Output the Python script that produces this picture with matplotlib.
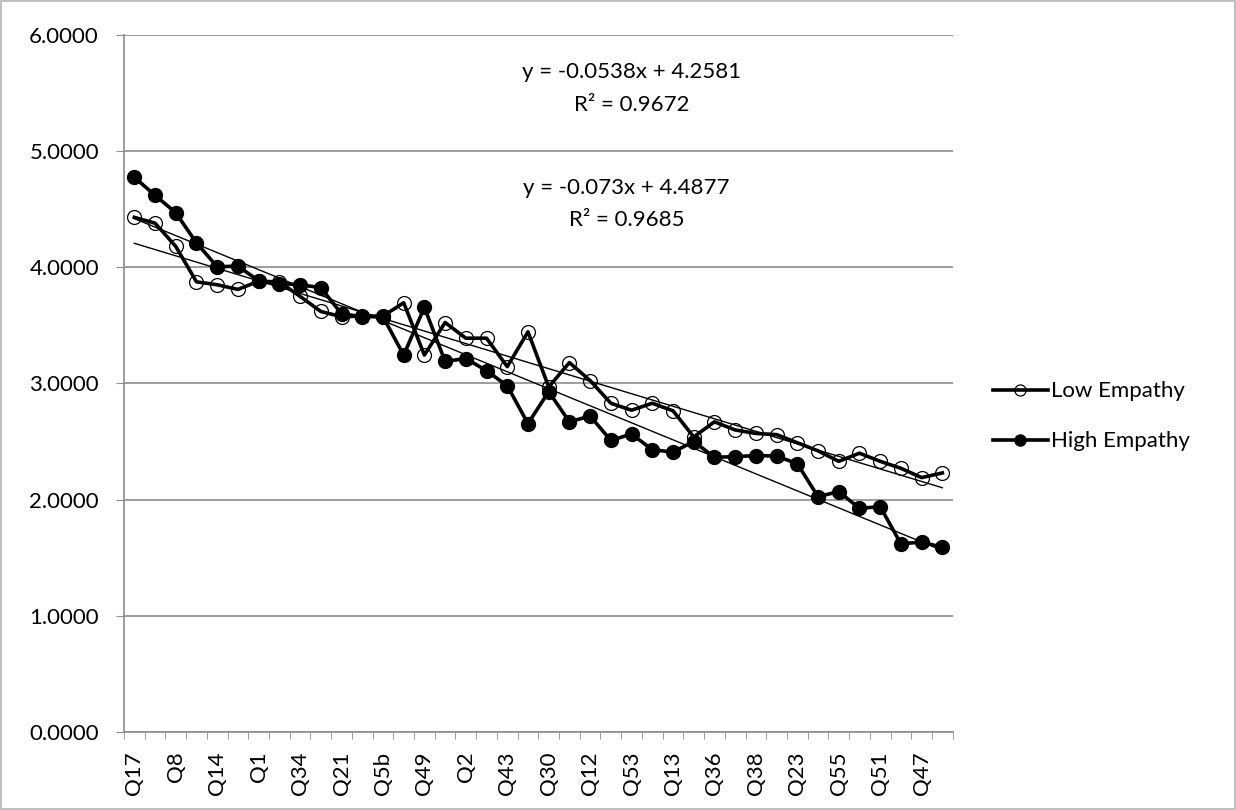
import numpy as np
import matplotlib
matplotlib.use("Agg")
import matplotlib.pyplot as plt

# ── Date ─────────────────────────────────────────────────────────────────────

questions = ["Q17", "", "Q8", "", "Q14", "", "Q1", "", "Q34", "",
             "Q21", "", "Q5b", "", "Q49", "", "Q2", "", "Q43", "",
             "Q30", "", "Q12", "", "Q53", "", "Q13", "", "Q36", "",
             "Q38", "", "Q23", "", "Q55", "", "Q51", "", "Q47", ""]

low_empathy = [4.43, 4.38, 4.18, 3.875, 3.85, 3.81, 3.88, 3.875, 3.75, 3.62,
               3.575, 3.58, 3.58, 3.695, 3.245, 3.525, 3.39, 3.39, 3.145, 3.445,
               2.97, 3.18, 3.025, 2.83, 2.77, 2.83, 2.765, 2.54, 2.67, 2.60,
               2.57, 2.56, 2.49, 2.42, 2.33, 2.40, 2.33, 2.27, 2.19, 2.23]

high_empathy = [4.775, 4.62, 4.47, 4.21, 4.005, 4.01, 3.885, 3.86, 3.85, 3.825,
                3.60, 3.575, 3.575, 3.245, 3.655, 3.19, 3.215, 3.11, 2.98, 2.655,
                2.93, 2.67, 2.72, 2.51, 2.565, 2.43, 2.41, 2.50, 2.365, 2.37,
                2.38, 2.375, 2.31, 2.025, 2.07, 1.925, 1.94, 1.62, 1.635, 1.59]

eq_low  = ["y = -0.0538x + 4.2581", "R² = 0.9672"]
eq_high = ["y = -0.073x + 4.4877", "R² = 0.9685"]

# ── Plot ──────────────────────────────────────────────────────────────────────

plt.rcParams["font.family"] = ["Lato", "DejaVu Sans"]
GRID = "#8c8c8c"
FS = 16

fig = plt.figure(figsize=(12.36, 8.10), dpi=100)
fig.patch.set_edgecolor("#bfbfbf")
fig.patch.set_linewidth(1.5)
ax = fig.add_axes([0.1003, 0.0963, 0.6705, 0.8605])

x = np.arange(len(questions))
n = np.arange(1, len(questions) + 1)

# trendlines (regresie liniara, x = 1..40 ca in Excel)
for vals in (low_empathy, high_empathy):
    k, b = np.polyfit(n, vals, 1)
    ax.plot(x, k * n + b, color="black", linewidth=1.0, zorder=2)

ax.plot(x, low_empathy, color="black", linewidth=2.6, marker="o",
        markersize=10, markerfacecolor="none", markeredgecolor="black",
        markeredgewidth=0.9, label="Low Empathy", zorder=3)
ax.plot(x, high_empathy, color="black", linewidth=2.6, marker="o",
        markersize=10, markerfacecolor="black", markeredgecolor="black",
        label="High Empathy", zorder=4)

ax.set_xlim(-0.5, len(questions) - 0.5)
ax.set_ylim(0, 6)
ax.set_yticks(np.arange(0, 7, 1))
ax.set_yticklabels([f"{v:.4f}" for v in np.arange(0, 7, 1)], fontsize=FS)
ax.yaxis.grid(True, color=GRID, linewidth=1.2)
ax.set_axisbelow(True)

lab_pos = [i for i, q in enumerate(questions) if q]
ax.set_xticks(lab_pos)
ax.set_xticklabels([questions[i] for i in lab_pos], rotation=90, fontsize=FS)
ax.set_xticks(np.arange(-0.5, len(questions), 1), minor=True)
ax.tick_params(axis="x", which="major", length=0, pad=14)
ax.tick_params(axis="x", which="minor", length=5, color=GRID)
ax.tick_params(axis="y", length=6, color=GRID, pad=12)

for s in ("top", "right"):
    ax.spines[s].set_visible(False)
for s in ("left", "bottom"):
    ax.spines[s].set_color(GRID)
    ax.spines[s].set_linewidth(1.2)

ax.text(24.0, 5.68, eq_low[0], ha="center", va="center", fontsize=FS)
ax.text(24.0, 5.40, eq_low[1], ha="center", va="center", fontsize=FS)
ax.text(23.75, 4.68, eq_high[0], ha="center", va="center", fontsize=FS)
ax.text(23.75, 4.41, eq_high[1], ha="center", va="center", fontsize=FS)

fig.legend(loc="center left", bbox_to_anchor=(0.803, 0.486), frameon=False,
           fontsize=FS, handlelength=2.5, handletextpad=0.15, labelspacing=1.35,
           borderpad=0, borderaxespad=0, markerscale=0.8)

plt.savefig("out.png", dpi=100)
plt.close()
